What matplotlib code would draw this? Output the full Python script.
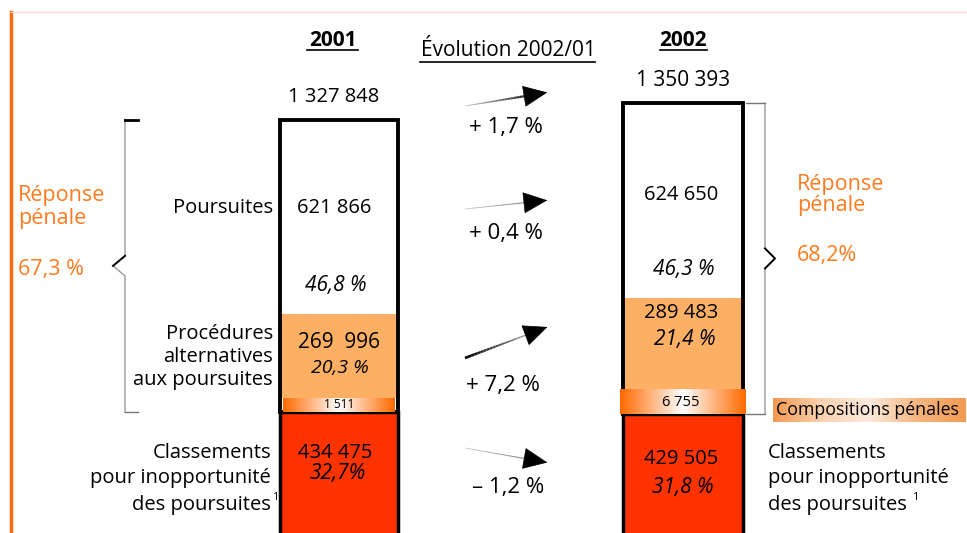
import numpy as np
import matplotlib
matplotlib.use('Agg')
import matplotlib.pyplot as plt
from matplotlib.collections import LineCollection
from matplotlib.colors import LinearSegmentedColormap

plt.rcParams['font.family'] = ['Open Sans', 'DejaVu Sans']

# data
years = ['2001', '2002']
totals = [1327848, 1350393]
poursuites = [621866, 624650]
procedures = [269996, 289483]
compositions = [1511, 6755]
classements = [434475, 429505]
pct_poursuites = ['46,8 %', '46,3 %']
pct_procedures = ['20,3 %', '21,4 %']
pct_classements = ['32,7%', '31,8 %']
reponse_penale = ['67,3 %', '68,2%']
evolutions = ['+ 1,7 %', '+ 0,4 %', '+ 7,2 %', '– 1,2 %']
classement_lines = ['Classements', 'pour inopportunité', 'des poursuites']

fmt = lambda v: f'{v:,}'.replace(',', ' ')

UNIT = 3200            # counts per pixel
BASE = 548             # pixel row of the bar baseline (below the picture)
bar_x = [339, 683]
bar_w = [118, 120]
band_px = [14, 25]     # drawn thickness of the compositions band
band_w = [112, 126]

ORANGE = '#FF7A1E'
PROC = '#FDB064'
CLASS = '#FF3300'

fig = plt.figure(figsize=(9.67, 5.33), dpi=100)
bx = fig.add_axes([0, 0, 1, 1])
bx.set_xlim(0, 967)
bx.set_ylim((BASE - 533) * UNIT, BASE * UNIT)
bx.axis('off')
lay = fig.add_axes([0, 0, 1, 1])
lay.set_xlim(0, 967)
lay.set_ylim(533, 0)
lay.axis('off')
lay.patch.set_alpha(0)

band_cmap = LinearSegmentedColormap.from_list('band', ['#FF6A00', '#FFFFFF', '#FF6A00'])
grad = np.linspace(0, 1, 200).reshape(1, -1)

tops = []
for i in range(2):
    x, w = bar_x[i], bar_w[i]
    band = band_px[i] * UNIT
    b1 = classements[i]
    b2 = b1 + band
    b3 = b2 + procedures[i]
    b4 = b3 + poursuites[i]
    tops.append((b1, b4))
    bx.bar(x, classements[i], w, bottom=0, color=CLASS, edgecolor='black', lw=2.5, zorder=2)
    bx.bar(x, procedures[i], w, bottom=b2, color=PROC, lw=0, zorder=2)
    bx.bar(x, poursuites[i], w, bottom=b3, color='white', lw=0, zorder=2)
    bx.bar(x, b4 - b1, w, bottom=b1, fill=False, edgecolor='black', lw=2.8, zorder=3)
    bx.imshow(grad, cmap=band_cmap, aspect='auto', zorder=4,
              extent=[x - band_w[i] / 2, x + band_w[i] / 2, b1, b2])

# braces spanning the "réponse pénale" part
def brace(x0, x1, lo, hi, side):
    mid = (lo + hi) / 2
    d = 10 * UNIT
    tip = x1 - 12 if side == 'left' else x1 + 10
    bx.plot([x1, x1, tip, x1, x1], [hi, mid + d, mid, mid - d, lo], color='#9a9a9a', lw=1, zorder=1)
    if side == 'right':
        bx.plot([x1, tip, x1], [mid + d, mid, mid - d], color='black', lw=1.4, zorder=1)
        bx.plot([x0, x1], [hi, hi], color='#777777', lw=1)
    else:
        bx.plot([x1, tip], [mid + d, mid], color='black', lw=1.4, zorder=1)
        bx.plot([x0, x1], [hi, hi], color='black', lw=2)
    bx.plot([x0, x1], [lo, lo], color='#777777', lw=1)

brace(138, 125, tops[0][0], tops[0][1], 'left')
brace(746, 765, tops[1][0], tops[1][1], 'right')

# frame lines
lay.plot([11, 11], [12, 533], color='#FF6A13', lw=2.5)
lay.plot([11, 967], [11.5, 11.5], color='#FCD9C6', lw=1)

# headers
lay.text(333, 40, years[0], ha='center', va='center', fontsize=15, fontweight='bold')
lay.plot([307, 358], [50, 50], color='black', lw=1.2)
lay.text(683, 40, years[1], ha='center', va='center', fontsize=15, fontweight='bold')
lay.plot([660, 707], [50, 50], color='black', lw=1.2)
lay.text(508, 50, 'Évolution 2002/01', ha='center', va='center', fontsize=15)
lay.plot([420, 595], [62, 62], color='black', lw=1.2)

# totals
lay.text(334, 97, fmt(totals[0]), ha='center', va='center', fontsize=14.5)
lay.text(683, 80, fmt(totals[1]), ha='center', va='center', fontsize=15)

# evolution arrows
def arrow(p0, p1, c0, c1, w0, w1):
    p0, p1 = np.array(p0, float), np.array(p1, float)
    d = (p1 - p0) / np.linalg.norm(p1 - p0)
    end = p1 - d * 12
    t = np.linspace(0, 1, 25)
    pts = p0 + np.outer(t, end - p0)
    segs = np.stack([pts[:-1], pts[1:]], axis=1)
    c0, c1 = np.array(matplotlib.colors.to_rgb(c0)), np.array(matplotlib.colors.to_rgb(c1))
    cols = [tuple(c0 + (c1 - c0) * s) for s in t[:-1]]
    lay.add_collection(LineCollection(segs, colors=cols, linewidths=w0 + (w1 - w0) * t[:-1]))
    lay.annotate('', xy=p1, xytext=p1 - d * 16,
                 arrowprops=dict(arrowstyle='-|>,head_length=0.9,head_width=0.4',
                                 mutation_scale=18, color='black', lw=0.5))

arrow((465, 106), (550, 92), '#c8c8c8', '#000000', 0.6, 2.0)
arrow((465, 209), (550, 200), '#c8c8c8', '#666666', 0.6, 0.8)
arrow((465, 358), (550, 326), '#000000', '#bbbbbb', 2.0, 0.6)
arrow((465, 448), (550, 463), '#c8c8c8', '#666666', 0.6, 0.8)

ev_pos = [(506, 128), (506, 233), (503, 385), (508, 487)]
for (x, y), s in zip(ev_pos, evolutions):
    lay.text(x, y, s, ha='center', va='center', fontsize=16)

# "Classements pour inopportunité des poursuites" with footnote mark
def classement_caption(x, ha, gap):
    last = None
    for y, s in zip([453, 478, 505], classement_lines):
        last = lay.text(x, y, s, ha=ha, va='center', fontsize=14.5)
    lay.annotate('1', xy=(1, 0.85), xycoords=last, xytext=(gap, 0), textcoords='offset points',
                 ha='left', va='center', fontsize=8)

# left captions
lay.text(18, 207, 'Réponse\npénale', ha='left', va='center', fontsize=15.5, color=ORANGE, linespacing=1.15)
lay.text(18, 270, reponse_penale[0], ha='left', va='center', fontsize=15.5, color=ORANGE)
lay.text(273, 208, 'Poursuites', ha='right', va='center', fontsize=14.5)
lay.text(273, 357, 'Procédures\nalternatives\naux poursuites', ha='right', va='center',
         fontsize=14.5, linespacing=1.2)
classement_caption(271, 'right', 0.5)

# 2001 values
lay.text(334, 208, fmt(poursuites[0]), ha='center', va='center', fontsize=14.5)
lay.text(336, 286, pct_poursuites[0], ha='center', va='center', fontsize=15, style='italic')
lay.text(339, 343, fmt(procedures[0]).replace(' ', '  '), ha='center', va='center', fontsize=15)
lay.text(340, 368, pct_procedures[0], ha='center', va='center', fontsize=14, style='italic')
lay.text(339, 405, fmt(compositions[0]), ha='center', va='center', fontsize=8.5, zorder=5)
lay.text(335, 453, fmt(classements[0]), ha='center', va='center', fontsize=14.5)
lay.text(338, 474, pct_classements[0], ha='center', va='center', fontsize=15, style='italic')

# 2002 values
lay.text(681, 195, fmt(poursuites[1]), ha='center', va='center', fontsize=14.5)
lay.text(684, 269, pct_poursuites[1], ha='center', va='center', fontsize=15, style='italic')
lay.text(681, 313, fmt(procedures[1]), ha='center', va='center', fontsize=14.5)
lay.text(685, 339, pct_procedures[1], ha='center', va='center', fontsize=15, style='italic')
lay.text(681, 403, fmt(compositions[1]), ha='center', va='center', fontsize=10.5, zorder=5)
lay.text(681, 459, fmt(classements[1]), ha='center', va='center', fontsize=14.5)
lay.text(683, 488, pct_classements[1], ha='center', va='center', fontsize=15, style='italic')

# right captions
lay.text(797, 195, 'Réponse\npénale', ha='left', va='center', fontsize=15.5, color=ORANGE, linespacing=1.05)
lay.text(797, 255, reponse_penale[1], ha='left', va='center', fontsize=15.5, color=ORANGE)

box_cmap = LinearSegmentedColormap.from_list('box', ['#F39A52', '#FAD2B0', '#FDEBDD', '#F6B57E', '#F39A52'])
lay.imshow(grad, cmap=box_cmap, aspect='auto', extent=[773, 966, 422, 398], zorder=1)
lay.text(776, 410, 'Compositions pénales', ha='left', va='center', fontsize=12.8, zorder=2)

classement_caption(768, 'left', 4)

lay.set_xlim(0, 967)
lay.set_ylim(533, 0)
fig.savefig('out.png', dpi=100)
